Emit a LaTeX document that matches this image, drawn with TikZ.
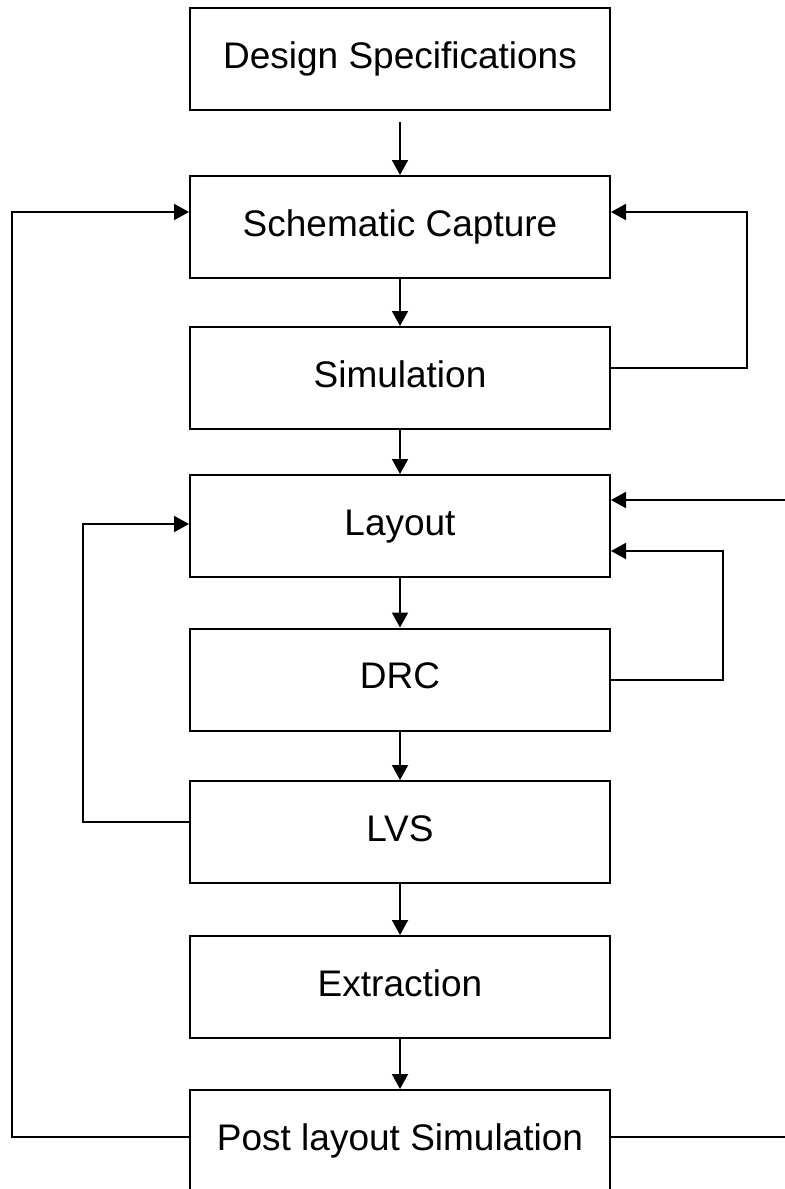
\documentclass[tikz,border=0pt]{standalone}
\usepackage{fontspec}
\setmainfont{Liberation Sans}
\usetikzlibrary{arrows.meta}

\begin{document}
\begin{tikzpicture}[
    x=0.5pt, y=-0.5pt,
    stage/.style={draw, line width=1pt, minimum width=210pt, minimum height=51pt,
      inner sep=0, text height=13pt, text depth=4pt, font=\fontsize{18.5}{22}\selectfont},
    wire/.style={line width=1pt},
    link/.style={wire, -{Triangle[length=7.5pt, width=8pt]}},
    pre/.style={wire, {Triangle[length=7.5pt, width=8pt]}-}
  ]
  \useasboundingbox (0,0) rectangle (785,1189);
  % main flow
  \node[stage] (spec) at (400,59) {Design Specifications};
  \node[stage] (schem) at (400,227) {Schematic Capture}
    edge [pre, shorten >=5.5pt] (spec);
  \node[stage] (sim) at (400,378) {Simulation}
    edge [pre] (schem);
  \node[stage] (layout) at (400,526) {Layout}
    edge [pre] (sim);
  \node[stage] (drc) at (400,679.5) {DRC}
    edge [pre] (layout);
  \node[stage] (lvs) at (400,832) {LVS}
    edge [pre] (drc);
  \node[stage] (extr) at (400,987) {Extraction}
    edge [pre] (lvs);
  \node[stage] (post) at (400,1141) {Post layout Simulation}
    edge [pre] (extr);

  % feedback loops
  \coordinate (simTurn) at (747,212);
  \draw[link] ([yshift=5pt]sim.east) -| (simTurn) -- (schem.east |- simTurn);
  \coordinate (drcTurn) at (723,551);
  \draw[link] (drc.east) -| (drcTurn) -- (layout.east |- drcTurn);
  \coordinate (lvsTurn) at (83,524);
  \draw[link] ([yshift=5pt]lvs.west) -| (lvsTurn) -- (layout.west |- lvsTurn);
  \coordinate (postTurn) at (12,212);
  \draw[link] ([yshift=2pt]post.west) -| (postTurn) -- (schem.west |- postTurn);

  % lines leaving the frame
  \coordinate (edgeIn) at (785,500);
  \draw[link] (edgeIn) -- (layout.east |- edgeIn);
  \coordinate (edgeOut) at (785,1137);
  \draw[wire] ([yshift=2pt]post.east) -- (edgeOut);
\end{tikzpicture}
\end{document}
